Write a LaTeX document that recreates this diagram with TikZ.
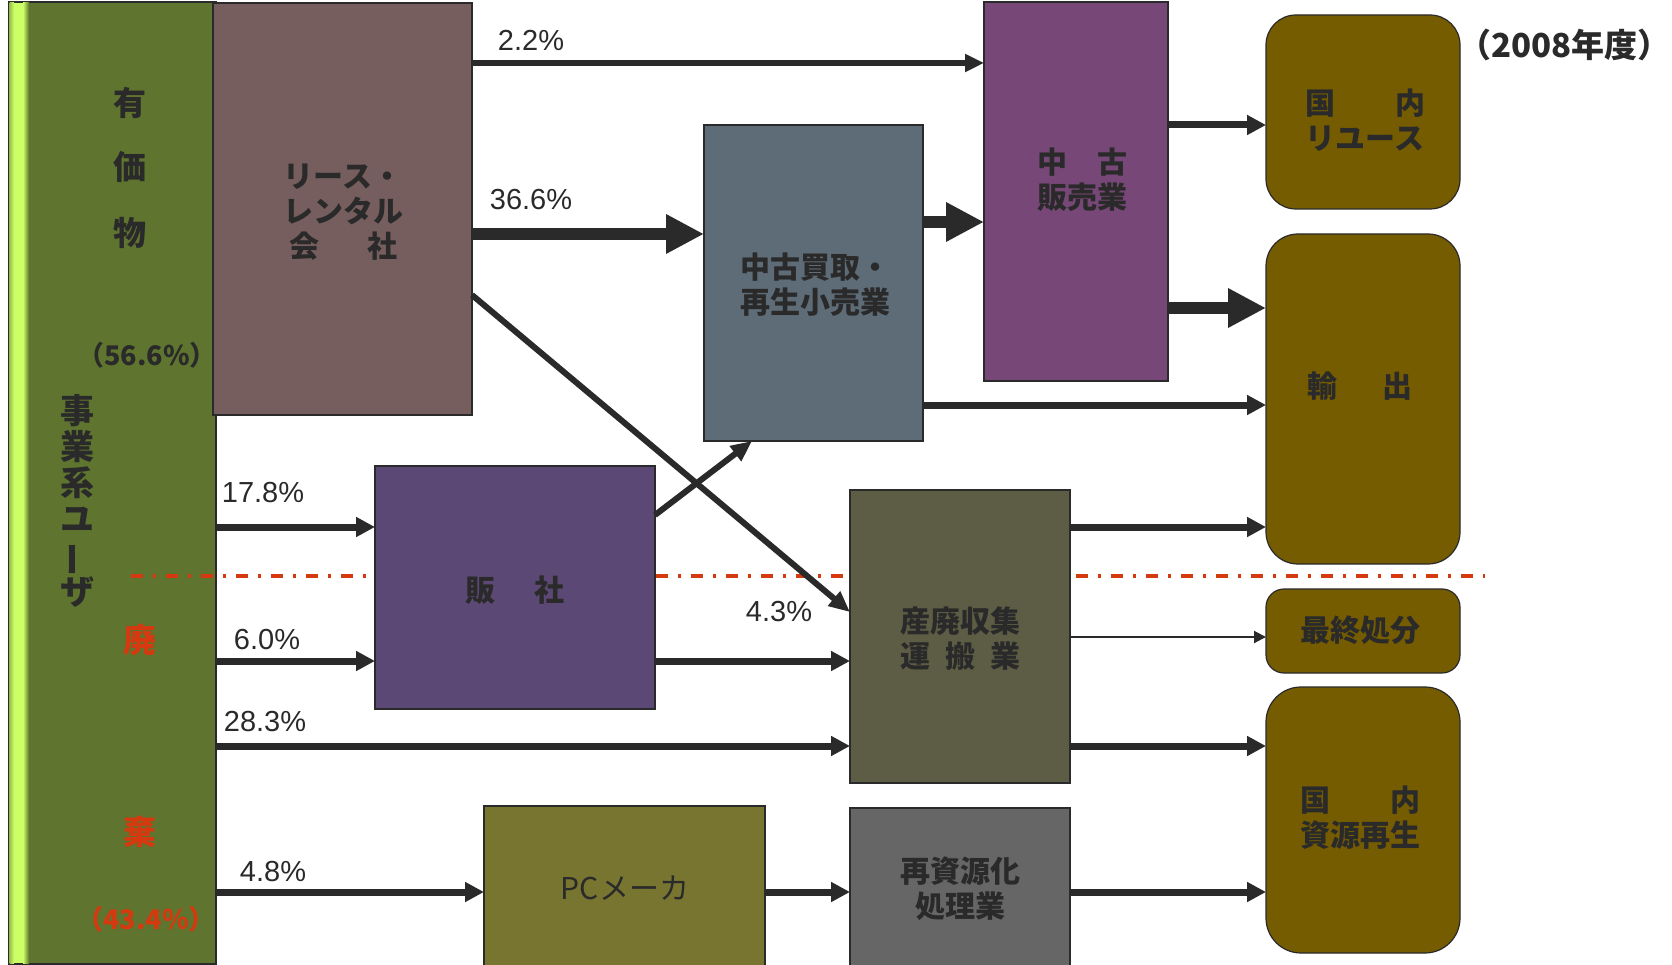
\documentclass[tikz,border=0pt]{standalone}
\usepackage{fontspec}
\setmainfont{Liberation Sans}
\newfontfamily\jp{Noto Sans CJK JP}
\usetikzlibrary{arrows.meta}
\definecolor{ink}{HTML}{2A2A2A}
\definecolor{userg}{HTML}{5F752F}
\definecolor{stripe}{HTML}{CCFF66}
\definecolor{leasec}{HTML}{775E5E}
\definecolor{buyc}{HTML}{5E6C77}
\definecolor{sellc}{HTML}{774877}
\definecolor{brownc}{HTML}{765C00}
\definecolor{dealc}{HTML}{5C4874}
\definecolor{indc}{HTML}{5D5D45}
\definecolor{pcc}{HTML}{777530}
\definecolor{procc}{HTML}{666666}
\definecolor{redc}{HTML}{D4390F}
\begin{document}
\begin{tikzpicture}[x=1pt,y=-1pt,
  box/.style={draw=ink, line width=1.2pt, inner sep=0pt, outer sep=0pt, anchor=center},
  rbox/.style={box, rounded corners=#1},
  jt/.style={text=ink, font=\jp\bfseries\fontsize{30}{35}\selectfont, align=center, inner sep=0pt},
  big/.style={text=ink, font=\jp\bfseries\fontsize{33}{36}\selectfont, align=center, inner sep=0pt},
  pct/.style={text=ink, font=\fontsize{29}{34}\selectfont, inner sep=0pt},
  arr/.style={draw=ink, line width=7pt, -{Triangle[length=19pt,width=19pt]}},
  arrthick/.style={draw=ink, line width=12pt, -{Triangle[length=38pt,width=37pt]}},
  arrthin/.style={draw=ink, line width=2pt, -{Triangle[length=12pt,width=12pt]}},
  arrdiag/.style={draw=ink, line width=6pt, -{Triangle[length=21pt,width=18pt]}},
  dashline/.style={draw=redc, line width=3.5pt, dash pattern=on 12pt off 10pt on 3pt off 10pt}
]
\clip (0,0) rectangle (1672,965);
\fill[white] (0,0) rectangle (1672,965);
% user column
\node[box, fill=userg, minimum width=207pt, minimum height=962pt] (user) at (112.5,483) {};
\shade[left color=stripe!55!userg, right color=stripe] (9.6,2.6) rectangle (14,963.4);
\fill[stripe] (14,2.6) rectangle (23,963.4);
\shade[left color=stripe, right color=userg] (23,2.6) rectangle (29,963.4);
% dash-dot boundary
\coordinate (dl) at (131,576);
\coordinate (dr) at (1485,576);
\draw[dashline] (dl) -- (dr);
% boxes
\node[box, fill=leasec, minimum width=259pt, minimum height=412pt] (lease) at (342.5,209) {};
\node[box, fill=buyc, minimum width=219pt, minimum height=316pt] (buy) at (813.5,283) {};
\node[box, fill=sellc, minimum width=184pt, minimum height=379pt] (sell) at (1076,191.5) {};
\node[rbox=30pt, fill=brownc, minimum width=194pt, minimum height=194pt] (reuse) at (1363,112) {};
\node[rbox=32pt, fill=brownc, minimum width=194pt, minimum height=330pt] (export) at (1363,399) {};
\node[rbox=18pt, fill=brownc, minimum width=194pt, minimum height=84pt] (landfill) at (1363,631) {};
\node[rbox=35pt, fill=brownc, minimum width=194pt, minimum height=266pt] (recyc) at (1363,820) {};
\node[box, fill=dealc, minimum width=280pt, minimum height=243pt] (dealer) at (515,587.5) {};
\node[box, fill=indc, minimum width=220pt, minimum height=293pt] (ind) at (960,636.5) {};
\node[box, fill=pcc, minimum width=281pt, minimum height=170pt] (pc) at (624.5,891) {};
\node[box, fill=procc, minimum width=220pt, minimum height=168pt] (proc) at (960,892) {};
% texts in boxes
\node[jt] (leaset) at (343,212) {リース・\\レンタル\\会\hspace{1.6em}社};
\node[jt] (buyt) at (815,285) {中古買取・\\再生小売業};
\node[jt] (sellt) at (1082,180) {中\hspace{1em}古\\販売業};
\node[jt] (reuset) at (1365,120) {国\hspace{2em}内\\リユース};
\node[jt] (exportt) at (1360,386) {輸\hspace{1.5em}出};
\node[jt] (landfillt) at (1360,630) {最終処分};
\node[jt] (recyct) at (1360,818) {国\hspace{2em}内\\資源再生};
\node[jt] (dealert) at (515,590) {販\hspace{1.3em}社};
\node[jt] (indt) at (960,639) {産廃収集\\運\hspace{0.5em}搬\hspace{0.5em}業};
\node[jt, font=\jp\fontsize{30}{35}\selectfont] (pct_) at (625,888) {PCメーカ};
\node[jt] (proct) at (960,889) {再資源化\\処理業};
% user column labels
\node[big] (k1) at (130,103) {有};
\node[big] (k2) at (130,167) {価};
\node[big] (k3) at (130,233) {物};
\node[jt, font=\jp\bfseries\fontsize{27}{30}\selectfont] (share1) at (147,355) {（56.6\%）};
\node[text=ink, font=\jp\bfseries\fontsize{34}{36}\selectfont, align=center, inner sep=0pt] (userlbl) at (77,501)
  {事\\業\\系\\ユ\\\rotatebox[origin=c]{90}{ー}\\ザ};
\node[big, text=redc] (w1) at (140,640) {廃};
\node[big, text=redc] (w2) at (140,832) {棄};
\node[jt, text=redc, font=\jp\bfseries\fontsize{27}{30}\selectfont] (share2) at (146,919) {（43.4\%）};
\node[text=ink, font=\jp\bfseries\fontsize{33}{38}\selectfont, inner sep=0pt, anchor=east] (year) at (1671,45) {（2008年度）};
% percentage labels
\node[pct] (p1) at (531,40) {2.2\%};
\node[pct] (p2) at (531,200) {36.6\%};
\node[pct] (p3) at (263,493) {17.8\%};
\node[pct] (p4) at (267,640) {6.0\%};
\node[pct] (p5) at (265,722) {28.3\%};
\node[pct] (p6) at (273,872) {4.8\%};
\node[pct] (p7) at (779,612) {4.3\%};
% y levels
\coordinate (yA) at (0,63);
\coordinate (yB) at (0,234);
\coordinate (yC) at (0,222);
\coordinate (yD) at (0,125);
\coordinate (yE) at (0,308);
\coordinate (yF) at (0,405);
\coordinate (yG) at (0,527);
\coordinate (yH) at (0,661);
\coordinate (yI) at (0,746);
\coordinate (yJ) at (0,892);
\coordinate (yK) at (0,637);
\coordinate (yL) at (0,295);
\coordinate (yM) at (0,612);
\coordinate (yN) at (0,515);
\coordinate (xO) at (752,0);
% connectors
\draw[draw=ink, line width=6pt, -{Triangle[length=19pt,width=17pt]}] (lease.east|-yA) -- (sell.west|-yA);
\draw[arrthick] (lease.east|-yB) -- (buy.west|-yB);
\draw[arrthick] (buy.east|-yC) -- (sell.west|-yC);
\draw[arr] (sell.east|-yD) -- (reuse.west|-yD);
\draw[arrthick] (sell.east|-yE) -- (export.west|-yE);
\draw[arr] (buy.east|-yF) -- (export.west|-yF);
\draw[arrdiag] (lease.east|-yL) -- (ind.west|-yM);
\draw[arr] (user.east|-yG) -- (dealer.west|-yG);
\draw[arr] (user.east|-yH) -- (dealer.west|-yH);
\draw[arr] (user.east|-yI) -- (ind.west|-yI);
\draw[arr] (user.east|-yJ) -- (pc.west|-yJ);
\draw[arrdiag] (dealer.east|-yN) -- (buy.south-|xO);
\draw[arr] (dealer.east|-yH) -- (ind.west|-yH);
\draw[arr] (ind.east|-yG) -- (export.west|-yG);
\draw[arrthin] (ind.east|-yK) -- (landfill.west|-yK);
\draw[arr] (ind.east|-yI) -- (recyc.west|-yI);
\draw[arr] (pc.east|-yJ) -- (proc.west|-yJ);
\draw[arr] (proc.east|-yJ) -- (recyc.west|-yJ);
\end{tikzpicture}
\end{document}
